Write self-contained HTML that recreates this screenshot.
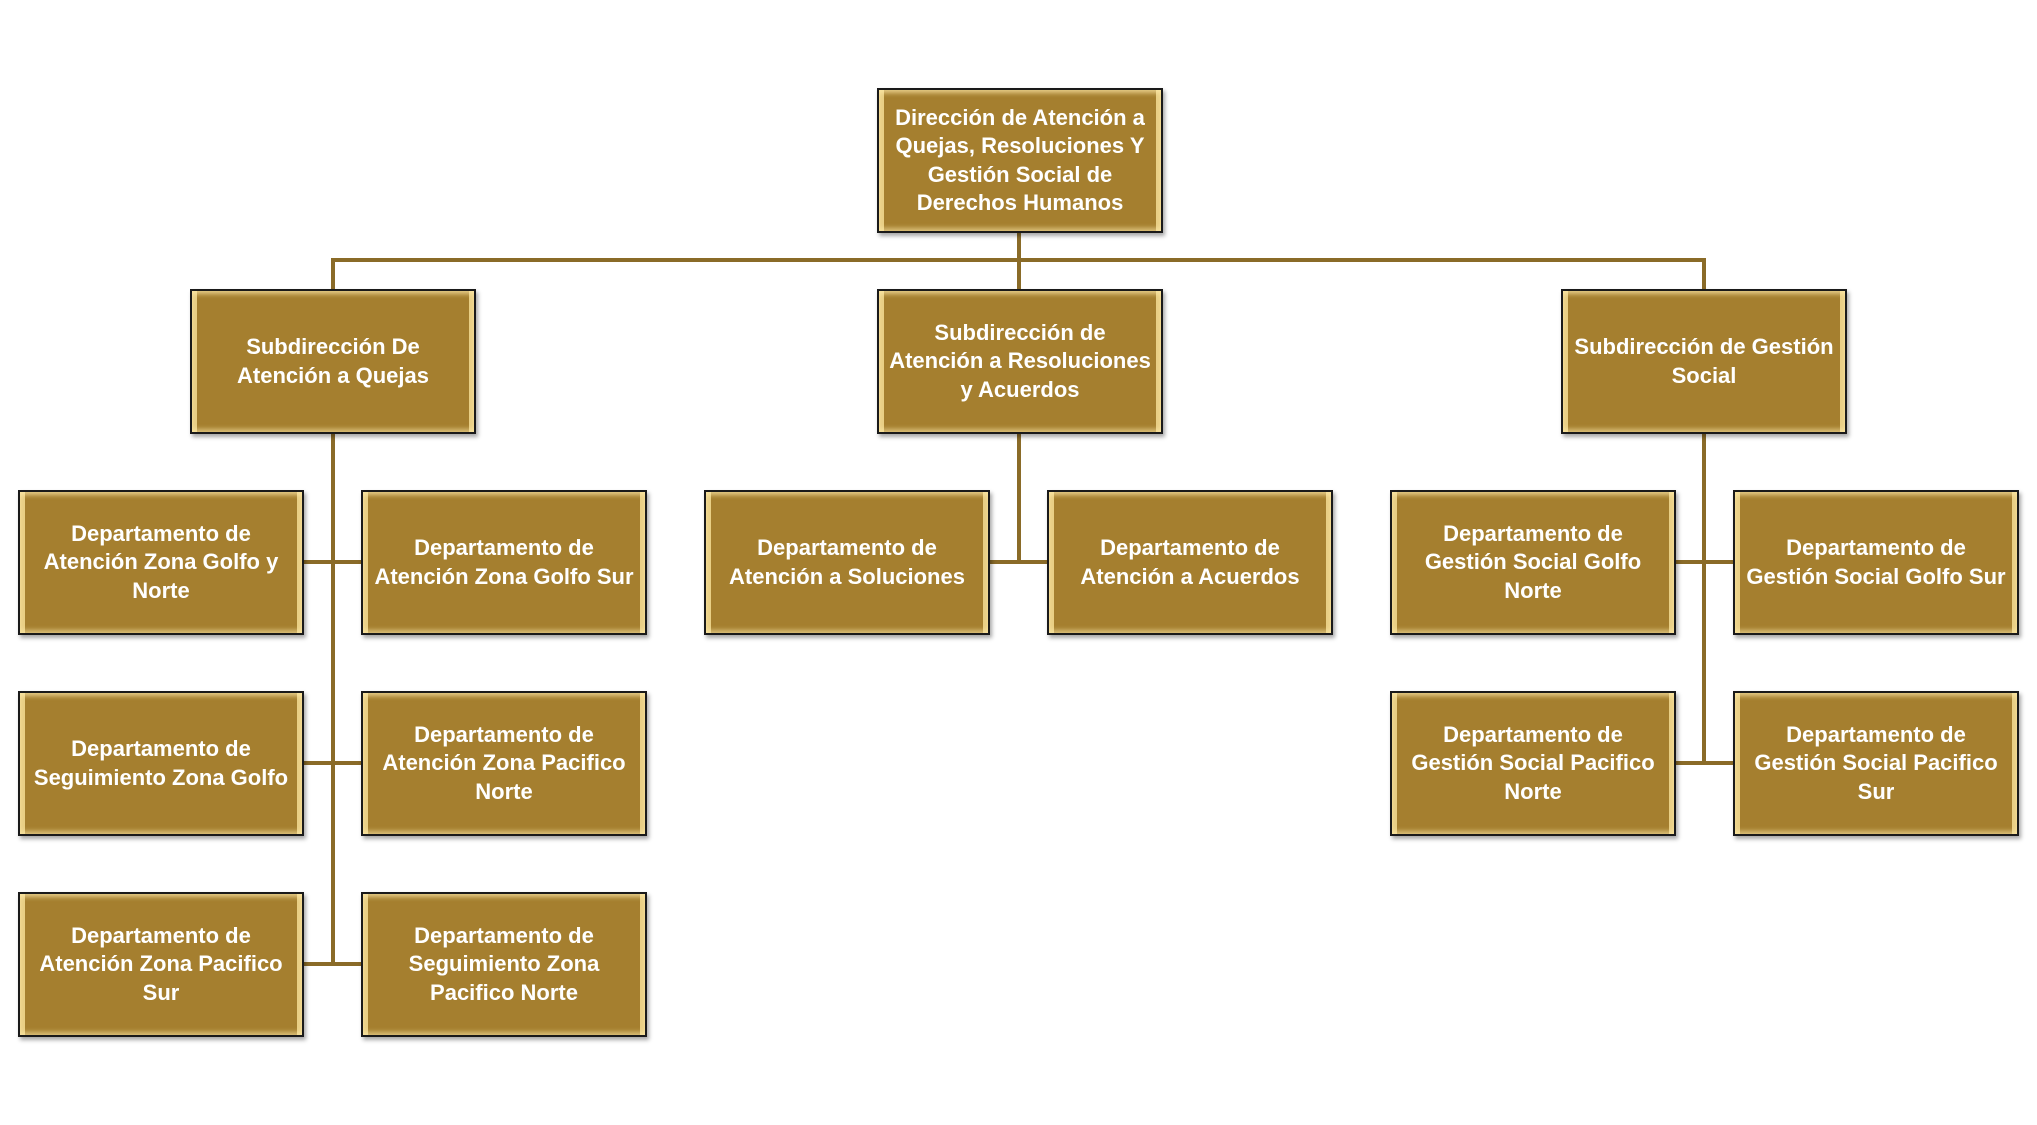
<!DOCTYPE html>
<html><head><meta charset="utf-8"><style>
body{margin:0;width:2037px;height:1125px;background:#fff;position:relative;overflow:hidden;font-family:"Liberation Sans",sans-serif}
.b{position:absolute;width:282px;height:141px;background:#a57f2f;border:2px solid #1a1a1a;box-shadow:2px 3px 4px rgba(0,0,0,.35), inset 0 4px 5px -1px rgba(255,235,170,.7), inset 0 -4px 5px -1px rgba(255,235,170,.6), inset 7px 0 0 -2px #e9cf86, inset -7px 0 0 -2px #e9cf86;display:flex;align-items:center;justify-content:center;text-align:center;color:#fff;font-weight:bold;font-size:22px;line-height:28.5px;box-sizing:content-box;white-space:nowrap}
.l{position:absolute;background:#8a6b28}
</style></head><body>
<div class="l" style="left:1017px;top:233px;width:4px;height:30px"></div>
<div class="l" style="left:331px;top:258px;width:1375px;height:4px"></div>
<div class="l" style="left:331px;top:258px;width:4px;height:32px"></div>
<div class="l" style="left:1702px;top:258px;width:4px;height:32px"></div>
<div class="l" style="left:1017px;top:258px;width:4px;height:32px"></div>
<div class="l" style="left:331px;top:433px;width:4px;height:533px"></div>
<div class="l" style="left:304px;top:560px;width:57px;height:4px"></div>
<div class="l" style="left:304px;top:761px;width:57px;height:4px"></div>
<div class="l" style="left:304px;top:962px;width:57px;height:4px"></div>
<div class="l" style="left:1017px;top:433px;width:4px;height:131px"></div>
<div class="l" style="left:990px;top:560px;width:57px;height:4px"></div>
<div class="l" style="left:1702px;top:433px;width:4px;height:332px"></div>
<div class="l" style="left:1676px;top:560px;width:57px;height:4px"></div>
<div class="l" style="left:1676px;top:761px;width:57px;height:4px"></div>

<div class="b" style="left:877px;top:88px">Dirección de Atención a<br>Quejas, Resoluciones Y<br>Gestión Social de<br>Derechos Humanos</div>
<div class="b" style="left:190px;top:289px">Subdirección De<br>Atención a Quejas</div>
<div class="b" style="left:877px;top:289px">Subdirección de<br>Atención a Resoluciones<br>y Acuerdos</div>
<div class="b" style="left:1561px;top:289px">Subdirección de Gestión<br>Social</div>

<div class="b" style="left:18px;top:490px">Departamento de<br>Atención Zona Golfo y<br>Norte</div>
<div class="b" style="left:361px;top:490px">Departamento de<br>Atención Zona Golfo Sur</div>
<div class="b" style="left:704px;top:490px">Departamento de<br>Atención a Soluciones</div>
<div class="b" style="left:1047px;top:490px">Departamento de<br>Atención a Acuerdos</div>
<div class="b" style="left:1390px;top:490px">Departamento de<br>Gestión Social Golfo<br>Norte</div>
<div class="b" style="left:1733px;top:490px">Departamento de<br>Gestión Social Golfo Sur</div>

<div class="b" style="left:18px;top:691px">Departamento de<br>Seguimiento Zona Golfo</div>
<div class="b" style="left:361px;top:691px">Departamento de<br>Atención Zona Pacifico<br>Norte</div>
<div class="b" style="left:1390px;top:691px">Departamento de<br>Gestión Social Pacifico<br>Norte</div>
<div class="b" style="left:1733px;top:691px">Departamento de<br>Gestión Social Pacifico<br>Sur</div>

<div class="b" style="left:18px;top:892px">Departamento de<br>Atención Zona Pacifico<br>Sur</div>
<div class="b" style="left:361px;top:892px">Departamento de<br>Seguimiento Zona<br>Pacifico Norte</div>
</body></html>
